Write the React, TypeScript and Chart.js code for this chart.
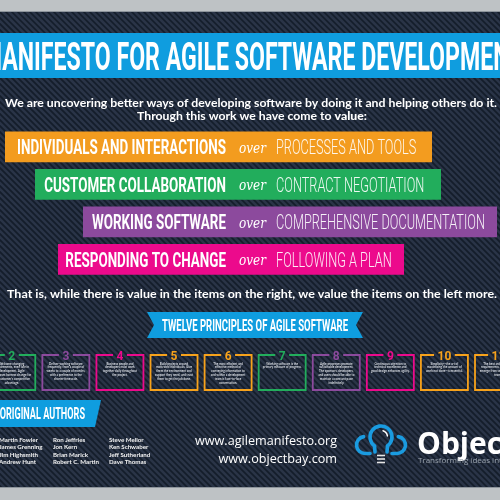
import React, { useEffect, useRef } from "react";
import { Chart, registerables } from "chart.js";
Chart.register(...registerables);

// ---------- data ----------
const titleText = "MANIFESTO FOR AGILE SOFTWARE DEVELOPMENT";
const introLine1 = "We are uncovering better ways of developing software by doing it and helping others do it.";
const introLine2a = "Through this work we have come to ";
const introLine2b = "value:";
const closingLine = "That is, while there is value in the items on the right, we value the items on the left more.";
const ribbonText = "TWELVE PRINCIPLES OF AGILE SOFTWARE";
const authorsHeading = "ORIGINAL AUTHORS";

const valueLeft = ["INDIVIDUALS AND INTERACTIONS", "CUSTOMER COLLABORATION", "WORKING SOFTWARE", "RESPONDING TO CHANGE"];
const valueRight = ["PROCESSES AND TOOLS", "CONTRACT NEGOTIATION", "COMPREHENSIVE DOCUMENTATION", "FOLLOWING A PLAN"];
const overWord = "over";
const bannerFrom = [5, 35, 83, 58];
const bannerTo = [432, 441, 497, 404];
const bannerColors = ["#f39c1f", "#22ad5c", "#8c4a9d", "#ec0a8c"];

const principleNumbers = ["1", "2", "3", "4", "5", "6", "7", "8", "9", "10", "11", "12"];
const principleTexts = [
  "Our highest priority is to satisfy the customer through early and continuous delivery of valuable software.",
  "Welcome changing requirements, even late in development. Agile processes harness change for the customer's competitive advantage.",
  "Deliver working software frequently, from a couple of weeks to a couple of months, with a preference to the shorter timescale.",
  "Business people and developers must work together daily throughout the project.",
  "Build projects around motivated individuals. Give them the environment and support they need, and trust them to get the job done.",
  "The most efficient and effective method of conveying information to and within a development team is face-to-face conversation.",
  "Working software is the primary measure of progress.",
  "Agile processes promote sustainable development. The sponsors, developers, and users should be able to maintain a constant pace indefinitely.",
  "Continuous attention to technical excellence and good design enhances agility.",
  "Simplicity--the art of maximizing the amount of work not done--is essential.",
  "The best architectures, requirements, and designs emerge from self-organizing teams.",
  "At regular intervals, the team reflects on how to become more effective, then tunes and adjusts its behavior accordingly.",
];
const principleColors = ["#f7a21b", "#22ad5c", "#8c4a9d", "#ec0a8c", "#f7a21b", "#f7a21b", "#22ad5c", "#8c4a9d", "#ec0a8c", "#f7a21b", "#f7a21b", "#22ad5c"];

const authorsCol1 = ["Martin Fowler", "James Grenning", "Jim Highsmith", "Andrew Hunt"];
const authorsCol2 = ["Ron Jeffries", "Jon Kern", "Brian Marick", "Robert C. Martin"];
const authorsCol3 = ["Steve Mellor", "Ken Schwaber", "Jeff Sutherland", "Dave Thomas"];
const urls = ["www.agilemanifesto.org", "www.objectbay.com"];
const brandName = "Objectbay";
const brandTagline = "Transforming ideas into software";

// ---------- helpers ----------
const BLUE = "#0f9ddf";

function drawScaled(ctx: CanvasRenderingContext2D, text: string, x: number, y: number, font: string, s: number, align: CanvasTextAlign) {
  ctx.save();
  ctx.font = font;
  ctx.textAlign = align;
  ctx.textBaseline = "alphabetic";
  ctx.translate(x, y);
  ctx.scale(s, 1);
  ctx.fillText(text, 0, 0);
  ctx.restore();
}
function scaleFor(ctx: CanvasRenderingContext2D, text: string, font: string, width: number) {
  ctx.font = font;
  return width / ctx.measureText(text).width;
}
function wrap(ctx: CanvasRenderingContext2D, text: string, maxW: number) {
  const words = text.split(" ");
  const lines: string[] = [];
  let cur = "";
  for (const w of words) {
    const t = cur ? cur + " " + w : w;
    if (ctx.measureText(t).width > maxW && cur) {
      lines.push(cur);
      cur = w;
    } else cur = t;
  }
  if (cur) lines.push(cur);
  return lines;
}

const posterPlugin = {
  id: "poster",
  beforeDraw(chart: any) {
    const ctx: CanvasRenderingContext2D = chart.ctx;
    const W = chart.width, H = chart.height;
    ctx.save();
    ctx.fillStyle = "#bec2c5";
    ctx.fillRect(0, 0, W, H);
    ctx.fillStyle = "#141d2a";
    ctx.fillRect(0, 11, W, 477);
    ctx.save();
    ctx.beginPath();
    ctx.rect(0, 11, W, 477);
    ctx.clip();
    ctx.strokeStyle = "#2a3447";
    ctx.lineWidth = 2.6;
    for (let k = -520; k < 520; k += 6) {
      ctx.beginPath();
      ctx.moveTo(k, 11);
      ctx.lineTo(k + 480, 491);
      ctx.stroke();
    }
    ctx.restore();
    ctx.fillStyle = "#8d949b";
    ctx.fillRect(0, 11, W, 1);
    ctx.fillRect(0, 487, W, 1);

    // title band
    ctx.fillStyle = BLUE;
    ctx.fillRect(0, 33, W, 45);
    ctx.fillStyle = "#ffffff";
    const tFont = "bold 38px Roboto";
    const s = scaleFor(ctx, "ANIFESTO FOR AGILE SOFTWARE DEVELOPME", tFont, 491);
    ctx.font = tFont;
    const mW = ctx.measureText("M").width * s;
    drawScaled(ctx, titleText, 2 - mW, 69.5, tFont, s, "left");

    // intro text
    const iFont = "bold 11px Lato";
    const s1 = scaleFor(ctx, introLine1, iFont, 492);
    drawScaled(ctx, introLine1, 251, 106.5, iFont, s1, "center");
    ctx.font = iFont;
    const wa = ctx.measureText(introLine2a).width;
    const bFont = "900 11px Lato";
    ctx.font = bFont;
    const wb = ctx.measureText(introLine2b).width;
    const s2 = 230 / (wa + wb);
    const startX = 252 - 115;
    drawScaled(ctx, introLine2a, startX, 119.5, iFont, s2, "left");
    drawScaled(ctx, introLine2b, startX + wa * s2, 119.5, bFont, s2, "left");
    ctx.restore();
  },
  afterDatasetsDraw(chart: any) {
    const ctx: CanvasRenderingContext2D = chart.ctx;
    const xs = chart.scales.x;
    const meta = chart.getDatasetMeta(0);
    ctx.save();
    const lFont = "bold 20px Roboto";
    const rFont = "300 20px Roboto";
    const oFont = "italic 15px 'DejaVu Serif'";
    const sl = scaleFor(ctx, valueLeft[0], lFont, 209);
    const sr = scaleFor(ctx, valueRight[2], rFont, 209);
    const so = scaleFor(ctx, overWord, oFont, 27);
    meta.data.forEach((el: any, i: number) => {
      const yb = el.y + 7.5;
      ctx.fillStyle = "#ffffff";
      drawScaled(ctx, valueLeft[i], xs.getPixelForValue(226), yb, lFont, sl, "right");
      drawScaled(ctx, overWord, xs.getPixelForValue(239), el.y + 6, oFont, so, "left");
      ctx.fillStyle = "rgba(255,255,255,0.92)";
      drawScaled(ctx, valueRight[i], xs.getPixelForValue(276), yb, rFont, sr, "left");
    });

    // closing line
    ctx.fillStyle = "#ffffff";
    const cFont = "bold 11px Lato";
    drawScaled(ctx, closingLine, 252, 298, cFont, scaleFor(ctx, closingLine, cFont, 490), "center");

    // ribbon
    ctx.fillStyle = BLUE;
    ctx.beginPath();
    ctx.moveTo(147, 312);
    ctx.lineTo(363, 312);
    ctx.lineTo(356, 325);
    ctx.lineTo(363, 338);
    ctx.lineTo(147, 338);
    ctx.lineTo(154, 325);
    ctx.closePath();
    ctx.fill();
    ctx.fillStyle = "#ffffff";
    const rbFont = "bold 17px Roboto";
    drawScaled(ctx, ribbonText, 255, 331, rbFont, scaleFor(ctx, ribbonText, rbFont, 186), "center");

    // principle boxes
    principleNumbers.forEach((num, i) => {
      const L = -65.8 + 54.08 * i;
      const T = 355, BW = 47, BH = 35;
      if (L + BW < -5 || L > 505) return;
      const col = principleColors[i];
      const cx = L + BW / 2;
      ctx.font = "bold 12px Roboto";
      const nw = ctx.measureText(num).width;
      ctx.strokeStyle = col;
      ctx.lineWidth = 1.8;
      ctx.beginPath();
      ctx.moveTo(cx - nw / 2 - 3.5, T);
      ctx.lineTo(L, T);
      ctx.lineTo(L, T + BH);
      ctx.lineTo(L + BW, T + BH);
      ctx.lineTo(L + BW, T);
      ctx.lineTo(cx + nw / 2 + 3.5, T);
      ctx.stroke();
      ctx.fillStyle = col;
      ctx.textAlign = "center";
      ctx.fillText(num, cx, 359.5);
      ctx.fillStyle = "#d9dde3";
      ctx.font = "bold 3px Lato";
      const lines = wrap(ctx, principleTexts[i], 39);
      lines.forEach((ln, k) => ctx.fillText(ln, cx, 364.5 + k * 3.8));
    });

    // authors heading
    ctx.fillStyle = BLUE;
    ctx.beginPath();
    ctx.moveTo(0, 400);
    ctx.lineTo(101, 400);
    ctx.lineTo(95, 427);
    ctx.lineTo(0, 427);
    ctx.closePath();
    ctx.fill();
    ctx.fillStyle = "#ffffff";
    const ahFont = "bold 16px Roboto";
    const sah = scaleFor(ctx, "RIGINAL AUTHORS", ahFont, 79);
    ctx.font = ahFont;
    const oW = ctx.measureText("O").width * sah;
    drawScaled(ctx, authorsHeading, 6 - oW, 418.5, ahFont, sah, "left");

    // author names
    ctx.font = "bold 10px Lato";
    const fs = (10 * 39) / ctx.measureText(authorsCol1[0]).width;
    ctx.font = `bold ${fs.toFixed(2)}px Lato`;
    ctx.textAlign = "left";
    ctx.fillStyle = "#f2f2f2";
    [authorsCol1, authorsCol2, authorsCol3].forEach((col, c) => {
      const x = [-1, 53, 109][c];
      col.forEach((n, r) => ctx.fillText(n, x, 441.5 + r * 7.5));
    });

    // urls
    ctx.fillStyle = "#ffffff";
    const uFont = "13px 'Open Sans'";
    const su = scaleFor(ctx, urls[0], uFont, 142);
    drawScaled(ctx, urls[0], 337, 445, uFont, su, "right");
    drawScaled(ctx, urls[1], 337, 463, uFont, su, "right");

    // logo
    ctx.strokeStyle = "#1a9be0";
    ctx.lineWidth = 3.6;
    ctx.lineCap = "round";
    ctx.beginPath();
    ctx.arc(381, 437, 11, 0.7 * Math.PI, 2.3 * Math.PI);
    ctx.stroke();
    ctx.beginPath();
    ctx.moveTo(374.5, 446);
    ctx.lineTo(375, 452);
    ctx.moveTo(387.5, 446);
    ctx.lineTo(387, 452);
    ctx.stroke();
    ctx.beginPath();
    ctx.arc(365, 445, 8.5, 1.45 * Math.PI, 0.5 * Math.PI, true);
    ctx.lineTo(370, 453.5);
    ctx.stroke();
    ctx.beginPath();
    ctx.arc(397, 445, 8.5, 1.55 * Math.PI, 2.5 * Math.PI);
    ctx.lineTo(392, 453.5);
    ctx.stroke();
    ctx.strokeStyle = "#ffffff";
    ctx.lineWidth = 1.5;
    ctx.beginPath();
    ctx.arc(381, 437, 6.5, 1.6 * Math.PI, 1.95 * Math.PI);
    ctx.stroke();
    ctx.strokeStyle = "#e5e5e5";
    ctx.lineWidth = 1.6;
    ctx.lineCap = "butt";
    [455.5, 459, 462.5].forEach((yy) => {
      ctx.beginPath();
      ctx.moveTo(377, yy);
      ctx.lineTo(385, yy);
      ctx.stroke();
    });

    ctx.fillStyle = "#ffffff";
    ctx.font = "bold 30px 'Open Sans'";
    ctx.textAlign = "left";
    ctx.fillText(brandName, 417, 453.5);
    ctx.fillStyle = "#9aa3ad";
    ctx.font = "8px 'Open Sans'";
    ctx.fillText(brandTagline, 418, 463);
    ctx.restore();
  },
};

export default function App() {
  const ref = useRef<HTMLCanvasElement | null>(null);
  useEffect(() => {
    if (!ref.current) return;
    const chart = new Chart(ref.current, {
      type: "bar",
      data: {
        labels: valueLeft,
        datasets: [
          {
            data: bannerFrom.map((f, i) => [f, bannerTo[i]]) as any,
            backgroundColor: bannerColors,
            borderWidth: 0,
            barPercentage: 0.82,
            categoryPercentage: 1,
          },
        ],
      },
      options: {
        indexAxis: "y",
        responsive: false,
        animation: false,
        layout: { padding: { top: 128, bottom: 222, left: 0, right: 0 } },
        scales: {
          x: { type: "linear", min: 0, max: 500, display: false },
          y: { display: false },
        },
        plugins: { legend: { display: false }, tooltip: { enabled: false } },
      },
      plugins: [posterPlugin as any],
    });
    return () => chart.destroy();
  }, []);
  return (
    <div style={{ position: "fixed", left: 0, top: 0, width: 500, height: 500 }}>
      <canvas ref={ref} width={500} height={500} style={{ display: "block" }} />
    </div>
  );
}
